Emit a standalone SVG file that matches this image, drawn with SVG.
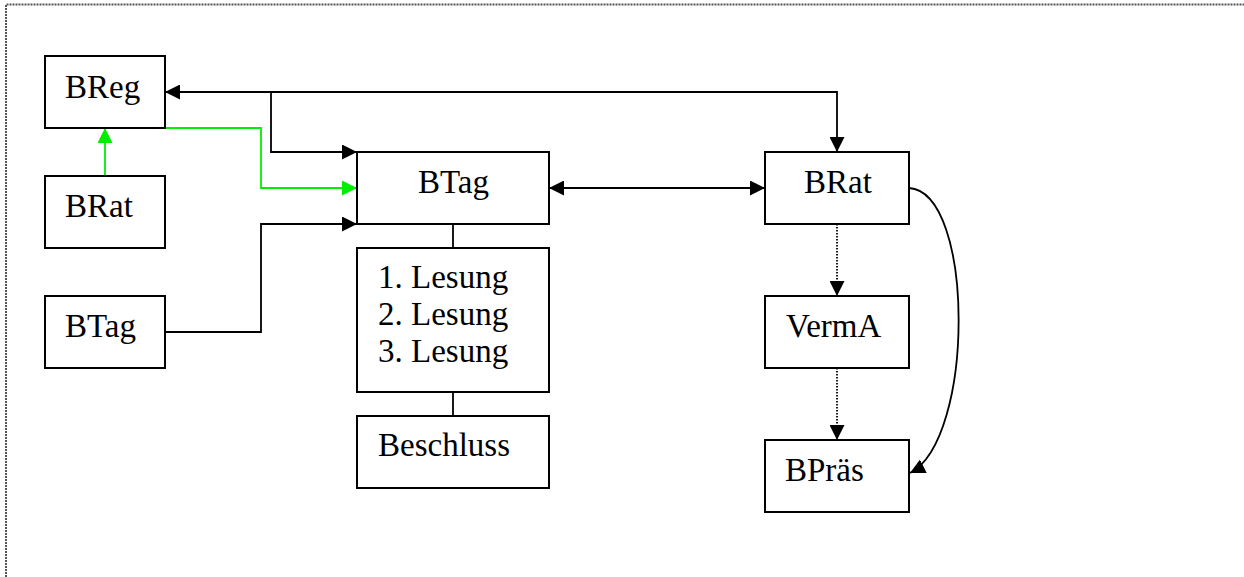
<svg xmlns="http://www.w3.org/2000/svg" width="1244" height="577" viewBox="0 0 1244 577">
<style>
.box{fill:#fff;stroke:#000;stroke-width:2}
.t{font-family:"Liberation Serif","Times New Roman",serif;font-size:33px;fill:#000}
.c{fill:none;stroke:#000;stroke-width:1.8}
.g{fill:none;stroke:#00ee00;stroke-width:1.8}
.d{fill:none;stroke:#000;stroke-width:1.8;stroke-dasharray:1.5 1.5}
.frame{fill:none;stroke:#555;stroke-width:2;stroke-dasharray:2 1}
</style>
<defs>
<marker id="ab" markerUnits="userSpaceOnUse" markerWidth="15" markerHeight="15" refX="15" refY="7.5" orient="auto-start-reverse" viewBox="0 0 15 15"><path d="M0,0 L15,7.5 L0,15 z" fill="#000"/></marker>
<marker id="ag" markerUnits="userSpaceOnUse" markerWidth="15" markerHeight="15" refX="15" refY="7.5" orient="auto" viewBox="0 0 15 15"><path d="M0,0 L15,7.5 L0,15 z" fill="#00ee00"/></marker>
</defs>
<rect width="1244" height="577" fill="#fff"/>
<path class="frame" d="M6,577 L6,4.5 L1244,4.5"/>
<g id="connectors">
<path class="g" d="M105,176 L105,128" marker-end="url(#ag)"/>
<path class="g" d="M165,128 L261,128 L261,188 L357,188" marker-end="url(#ag)"/>
<path class="c" d="M165,92 L837,92 L837,152" marker-start="url(#ab)" marker-end="url(#ab)"/>
<path class="c" d="M271,92 L271,152 L357,152" marker-end="url(#ab)"/>
<path class="c" d="M165,332 L261,332 L261,224 L357,224" marker-end="url(#ab)"/>
<path class="c" d="M549,188 L765,188" marker-start="url(#ab)" marker-end="url(#ab)"/>
<path class="c" d="M453,224 L453,248"/>
<path class="c" d="M453,392 L453,416"/>
<path class="d" d="M837,224 L837,296" marker-end="url(#ab)"/>
<path class="d" d="M837,368 L837,440" marker-end="url(#ab)"/>
<path class="c" d="M909,188 C975,192 975,440 910,473" marker-end="url(#ab)"/>
</g>
<g id="breg"><rect class="box" x="45" y="56" width="120" height="72"/><text class="t" x="65" y="98">BReg</text></g>
<g id="brat-left"><rect class="box" x="45" y="176" width="120" height="72"/><text class="t" x="65" y="217">BRat</text></g>
<g id="btag-left"><rect class="box" x="45" y="296" width="120" height="72"/><text class="t" x="65" y="337">BTag</text></g>
<g id="btag"><rect class="box" x="357" y="152" width="192" height="72"/><text class="t" x="418" y="193">BTag</text></g>
<g id="lesung"><rect class="box" x="357" y="248" width="192" height="144"/>
<text class="t" x="378" y="288">1. Lesung</text>
<text class="t" x="378" y="325">2. Lesung</text>
<text class="t" x="378" y="362">3. Lesung</text></g>
<g id="beschluss"><rect class="box" x="357" y="416" width="192" height="72"/><text class="t" x="378" y="456">Beschluss</text></g>
<g id="brat"><rect class="box" x="765" y="152" width="144" height="72"/><text class="t" x="804" y="193">BRat</text></g>
<g id="verma"><rect class="box" x="765" y="296" width="144" height="72"/><text class="t" x="786" y="337">VermA</text></g>
<g id="bpraes"><rect class="box" x="765" y="440" width="144" height="72"/><text class="t" x="785" y="481">BPräs</text></g>
</svg>
